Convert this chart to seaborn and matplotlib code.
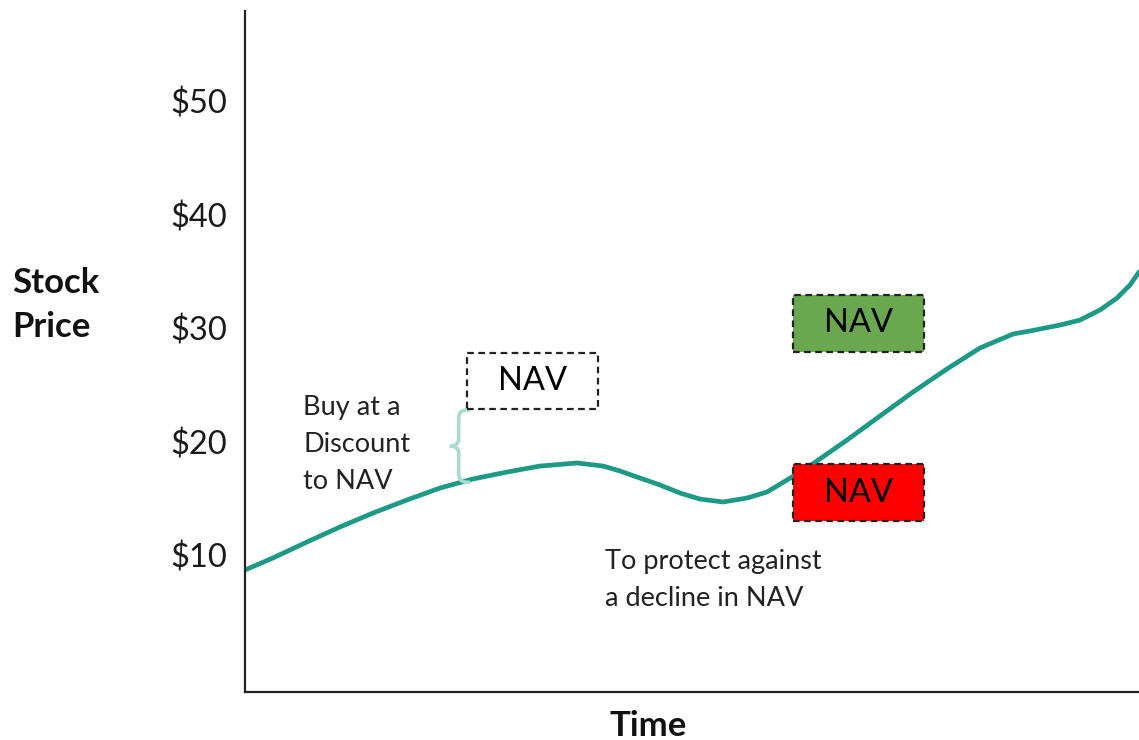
import numpy as np
import pandas as pd
import matplotlib.pyplot as plt
from matplotlib.patches import Rectangle, PathPatch
from matplotlib.path import Path
import seaborn as sns

# Stock price path (time on a 0-100 scale)
time = [0.0, 3.13, 6.94, 10.63, 14.32, 18.12, 21.81, 25.50, 29.31, 33.00,
        34.45, 37.14, 40.04, 41.95, 44.18, 46.42, 48.66, 50.89, 53.47, 56.15,
        58.39, 60.63, 62.86, 67.34, 71.03, 74.72, 78.52, 82.21, 85.91, 87.81,
        91.16, 93.40, 95.64, 97.54, 98.99, 100.0]
price = [8.68, 9.74, 11.15, 12.47, 13.70, 14.85, 15.90, 16.70, 17.31, 17.84,
         17.93, 18.11, 17.84, 17.40, 16.78, 16.17, 15.46, 14.93, 14.67, 15.02,
         15.55, 16.61, 17.67, 20.13, 22.25, 24.36, 26.39, 28.24, 29.47, 29.74,
         30.26, 30.70, 31.59, 32.64, 33.79, 34.93]
yticks = [10, 20, 30, 40, 50]
ytick_labels = ['$10', '$20', '$30', '$40', '$50']

df = pd.DataFrame({'Time': time, 'Price': price})

sns.set_style('white')
plt.rcParams['font.family'] = ['Lato', 'DejaVu Sans']

fig = plt.figure(figsize=(11.39, 7.40), dpi=100)
ax = fig.add_axes([245 / 1139, 1 - 692 / 740, 1 - 245 / 1139, (692 - 11) / 740])

sns.lineplot(data=df, x='Time', y='Price', ax=ax, color='#1d9a86', linewidth=3.4)
for ln in ax.get_lines():
    ln.set_solid_joinstyle('round')
    ln.set_solid_capstyle('round')

ax.set_xlim(0, 100)
ax.set_ylim(-2.07, 57.93)
ax.set_yticks(yticks)
ax.set_yticklabels(ytick_labels, fontsize=23.5, color='#1a1a1a')
ax.set_xticks([])
ax.tick_params(axis='y', length=0, pad=13)
ax.set_xlabel('')
ax.set_ylabel('')
sns.despine(ax=ax)
for side in ['left', 'bottom']:
    ax.spines[side].set_color('#222222')
    ax.spines[side].set_linewidth(1.6)

# NAV boxes
boxes = [((24.8, 22.86), 14.7, 4.94, 'white'),
         ((61.3, 27.89), 14.65, 5.02, '#6aa84f'),
         ((61.3, 12.99), 14.65, 5.03, '#ff0000')]
for (x0, y0), w, h, fc in boxes:
    ax.add_patch(Rectangle((x0, y0), w, h, facecolor=fc, edgecolor='#222222',
                           linestyle=(0, (3, 2)), linewidth=1.6, zorder=3))
    ax.text(x0 + w / 2, y0 + h / 2, 'NAV', ha='center', va='center',
            fontsize=23.5, color='black', zorder=4)

# curly brace between price and NAV
bx, top, bot = 23.9, 22.8, 16.4
mid = (top + bot) / 2
verts = [(25.2, top), (24.0, top), (bx, top - 0.3), (bx, top - 1.0),
         (bx, mid + 0.6),
         (bx, mid + 0.2), (23.5, mid), (22.9, mid),
         (23.5, mid), (bx, mid - 0.2), (bx, mid - 0.6),
         (bx, bot + 1.0),
         (bx, bot + 0.3), (24.0, bot), (25.2, bot)]
codes = [Path.MOVETO, Path.CURVE4, Path.CURVE4, Path.CURVE4,
         Path.LINETO,
         Path.CURVE4, Path.CURVE4, Path.CURVE4,
         Path.CURVE4, Path.CURVE4, Path.CURVE4,
         Path.LINETO,
         Path.CURVE4, Path.CURVE4, Path.CURVE4]
ax.add_patch(PathPatch(Path(verts, codes), facecolor='none',
                       edgecolor='#a9dccf', linewidth=2.6, zorder=2))

ax.text(6.49, 19.78, 'Buy at a\nDiscount\nto NAV', ha='left', va='center',
        fontsize=19.5, color='#222222', linespacing=1.6)
ax.text(40.27, 7.8, 'To protect against\na decline in NAV', ha='left',
        va='center', fontsize=19.5, color='#222222', linespacing=1.6)

fig.text(12 / 1139, 1 - 305 / 740, 'Stock\nPrice', ha='left', va='center',
         fontsize=25, fontweight='bold', color='#111111', linespacing=1.45)
fig.text(648 / 1139, 1 - 726 / 740, 'Time', ha='center', va='center',
         fontsize=25, fontweight='bold', color='#111111')

fig.savefig('out.png', dpi=100)
